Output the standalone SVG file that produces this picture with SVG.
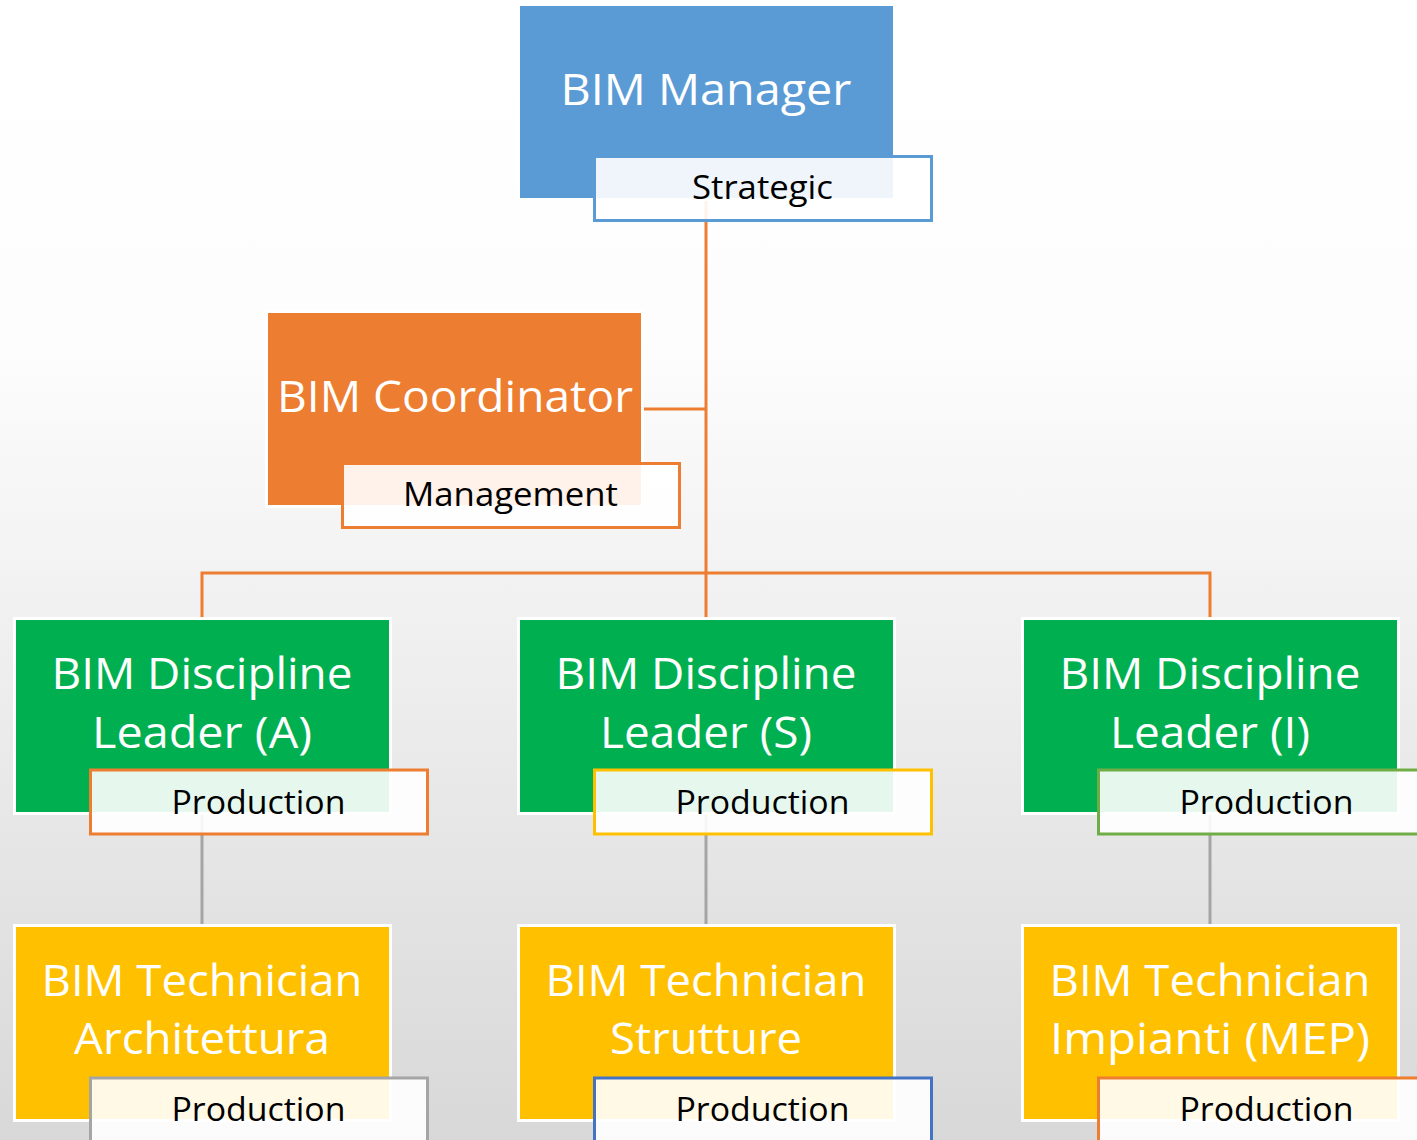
<svg xmlns="http://www.w3.org/2000/svg" width="1417" height="1140" viewBox="0 0 1417 1140">
<defs>
<linearGradient id="bg" x1="0" y1="0" x2="0" y2="1">
<stop offset="0" stop-color="#FFFFFF"/>
<stop offset="0.3" stop-color="#FDFDFD"/>
<stop offset="1" stop-color="#D8D8D8"/>
</linearGradient>
<style>
.box{stroke:#FFFFFF;stroke-width:3}
.lbl{fill:#FFFFFF;fill-opacity:0.9;stroke-width:3}
.t{font-family:"Open Sans","Noto Sans","Liberation Sans",sans-serif;font-size:44px;fill:#FFFFFF;text-anchor:middle}
.s{font-family:"Open Sans","Noto Sans","Liberation Sans",sans-serif;font-size:32.5px;fill:#000000;text-anchor:middle}
.co{stroke:#ED7D31;stroke-width:3;fill:none}
.cg{stroke:#A5A5A5;stroke-width:3;fill:none}
</style>
</defs>
<rect x="0" y="0" width="1417" height="1140" fill="url(#bg)"/>
<g id="connectors">
<path class="co" d="M706,198 V617"/>
<path class="co" d="M643,409 H706"/>
<path class="co" d="M202,617 V573 H1210 V617"/>
<path class="cg" d="M202,812 V924"/>
<path class="cg" d="M706,812 V924"/>
<path class="cg" d="M1210,812 V924"/>
</g>
<g id="bim-manager">
<rect class="box" x="518.5" y="4.5" width="376" height="195" fill="#5B9BD5"/>
<rect class="lbl" x="594.5" y="156.5" width="337" height="64" stroke="#5B9BD5"/>
<text class="t" x="706" y="105" textLength="291" lengthAdjust="spacingAndGlyphs">BIM Manager</text>
<text class="s" x="762.5" y="199" textLength="141" lengthAdjust="spacingAndGlyphs">Strategic</text>
</g>
<g id="bim-coordinator">
<rect class="box" x="266.5" y="311.5" width="376" height="195" fill="#ED7D31"/>
<rect class="lbl" x="342.5" y="463.5" width="337" height="64" stroke="#ED7D31"/>
<text class="t" x="455" y="412" textLength="356" lengthAdjust="spacingAndGlyphs">BIM Coordinator</text>
<text class="s" x="510.5" y="506" textLength="215" lengthAdjust="spacingAndGlyphs">Management</text>
</g>
<g id="leader-a">
<rect class="box" x="14.5" y="618.5" width="376" height="195" fill="#00B050"/>
<rect class="lbl" x="90.5" y="770" width="337" height="64" stroke="#ED7D31"/>
<text class="t" x="202" y="689" textLength="301" lengthAdjust="spacingAndGlyphs">BIM Discipline</text>
<text class="t" x="202" y="748" textLength="220" lengthAdjust="spacingAndGlyphs">Leader (A)</text>
<text class="s" x="258.5" y="814" textLength="174" lengthAdjust="spacingAndGlyphs">Production</text>
</g>
<g id="leader-s">
<rect class="box" x="518.5" y="618.5" width="376" height="195" fill="#00B050"/>
<rect class="lbl" x="594.5" y="770" width="337" height="64" stroke="#FFC000"/>
<text class="t" x="706" y="689" textLength="301" lengthAdjust="spacingAndGlyphs">BIM Discipline</text>
<text class="t" x="706" y="748" textLength="212" lengthAdjust="spacingAndGlyphs">Leader (S)</text>
<text class="s" x="762.5" y="814" textLength="174" lengthAdjust="spacingAndGlyphs">Production</text>
</g>
<g id="leader-i">
<rect class="box" x="1022.5" y="618.5" width="376" height="195" fill="#00B050"/>
<rect class="lbl" x="1098.5" y="770" width="337" height="64" stroke="#70AD47"/>
<text class="t" x="1210" y="689" textLength="301" lengthAdjust="spacingAndGlyphs">BIM Discipline</text>
<text class="t" x="1210" y="748" textLength="200" lengthAdjust="spacingAndGlyphs">Leader (I)</text>
<text class="s" x="1266.5" y="814" textLength="174" lengthAdjust="spacingAndGlyphs">Production</text>
</g>
<g id="tech-architettura">
<rect class="box" x="14.5" y="925.5" width="376" height="195" fill="#FFC000"/>
<rect class="lbl" x="90.5" y="1078" width="337" height="64" stroke="#A5A5A5"/>
<text class="t" x="202" y="996" textLength="321" lengthAdjust="spacingAndGlyphs">BIM Technician</text>
<text class="t" x="202" y="1054" textLength="256" lengthAdjust="spacingAndGlyphs">Architettura</text>
<text class="s" x="258.5" y="1121" textLength="174" lengthAdjust="spacingAndGlyphs">Production</text>
</g>
<g id="tech-strutture">
<rect class="box" x="518.5" y="925.5" width="376" height="195" fill="#FFC000"/>
<rect class="lbl" x="594.5" y="1078" width="337" height="64" stroke="#4472C4"/>
<text class="t" x="706" y="996" textLength="321" lengthAdjust="spacingAndGlyphs">BIM Technician</text>
<text class="t" x="706" y="1054" textLength="192" lengthAdjust="spacingAndGlyphs">Strutture</text>
<text class="s" x="762.5" y="1121" textLength="174" lengthAdjust="spacingAndGlyphs">Production</text>
</g>
<g id="tech-impianti">
<rect class="box" x="1022.5" y="925.5" width="376" height="195" fill="#FFC000"/>
<rect class="lbl" x="1098.5" y="1078" width="337" height="64" stroke="#ED7D31"/>
<text class="t" x="1210" y="996" textLength="321" lengthAdjust="spacingAndGlyphs">BIM Technician</text>
<text class="t" x="1210" y="1054" textLength="320" lengthAdjust="spacingAndGlyphs">Impianti (MEP)</text>
<text class="s" x="1266.5" y="1121" textLength="174" lengthAdjust="spacingAndGlyphs">Production</text>
</g>
</svg>
